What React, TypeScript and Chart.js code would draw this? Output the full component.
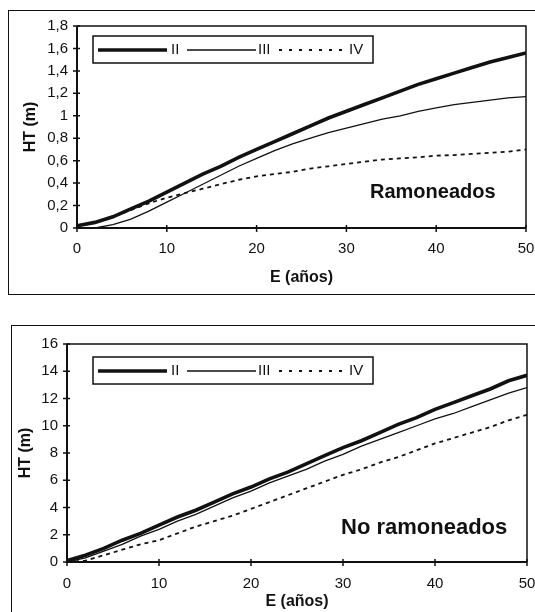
import React, { useEffect, useRef } from "react";
import { Chart, registerables } from "chart.js";

Chart.register(...registerables);

// ---------- data ----------
const years = [0, 2, 4, 6, 8, 10, 12, 14, 16, 18, 20, 22, 24, 26, 28, 30, 32, 34, 36, 38, 40, 42, 44, 46, 48, 50];
const seriesNames = ["II", "III", "IV"];

const ramII = [0.02, 0.05, 0.1, 0.17, 0.24, 0.32, 0.4, 0.48, 0.55, 0.63, 0.7, 0.77, 0.84, 0.91, 0.98, 1.04, 1.1, 1.16, 1.22, 1.28, 1.33, 1.38, 1.43, 1.48, 1.52, 1.56];
const ramIII = [0.0, 0.0, 0.03, 0.08, 0.15, 0.23, 0.31, 0.39, 0.47, 0.55, 0.62, 0.69, 0.75, 0.8, 0.85, 0.89, 0.93, 0.97, 1.0, 1.04, 1.07, 1.1, 1.12, 1.14, 1.16, 1.17];
const ramIV = [0.02, 0.05, 0.1, 0.16, 0.22, 0.27, 0.31, 0.35, 0.39, 0.43, 0.46, 0.48, 0.5, 0.53, 0.55, 0.57, 0.59, 0.61, 0.62, 0.63, 0.645, 0.65, 0.66, 0.67, 0.68, 0.7];

const noRamII = [0.1, 0.5, 1.0, 1.6, 2.1, 2.7, 3.3, 3.8, 4.4, 5.0, 5.5, 6.1, 6.6, 7.2, 7.8, 8.4, 8.9, 9.5, 10.1, 10.6, 11.2, 11.7, 12.2, 12.7, 13.3, 13.7];
const noRamIII = [0.0, 0.3, 0.8, 1.3, 1.9, 2.4, 3.0, 3.5, 4.1, 4.7, 5.2, 5.8, 6.3, 6.8, 7.4, 7.9, 8.5, 9.0, 9.5, 10.0, 10.5, 10.9, 11.4, 11.9, 12.4, 12.8];
const noRamIV = [0.0, 0.1, 0.5, 0.9, 1.3, 1.6, 2.1, 2.6, 3.0, 3.4, 3.9, 4.4, 4.9, 5.4, 5.9, 6.4, 6.8, 7.3, 7.7, 8.2, 8.7, 9.1, 9.5, 9.9, 10.4, 10.8];

const xTickLabels = ["0", "10", "20", "30", "40", "50"];
const ramYTickLabels = ["0", "0,2", "0,4", "0,6", "0,8", "1", "1,2", "1,4", "1,6", "1,8"];
const noRamYTickLabels = ["0", "2", "4", "6", "8", "10", "12", "14", "16"];

const xTitle = "E (años)";
const yTitle = "HT (m)";
const ramLabel = "Ramoneados";
const noRamLabel = "No ramoneados";

// ---------- styling ----------
const FONT = "'Liberation Sans', Arial, Helvetica, sans-serif";
const INK = "#111";
const lineStyles = [
  { width: 3.6, dash: [] as number[] },
  { width: 1.3, dash: [] as number[] },
  { width: 1.8, dash: [4, 4] },
];

type Cfg = {
  series: number[][];
  yMax: number;
  yStep: number;
  yLabels: string[];
  yAxisWidth: number;
  xAxisHeight: number;
  padTop: number;
  padRight: number;
  yTitlePad: number;
  xTitlePad: number;
  xTickPad: number;
  legendDX: number;
  legendDY: number;
  note: string;
  noteX: number;
  noteY: number;
  noteSize: number;
};

const decorPlugin = {
  id: "decor",
  afterDraw(chart: any, _args: any, opts: any) {
    const ctx = chart.ctx as CanvasRenderingContext2D;
    const a = chart.chartArea;
    const xs = chart.scales.x;
    const ys = chart.scales.y;
    ctx.save();
    ctx.strokeStyle = INK;
    // frame
    ctx.lineWidth = 1.5;
    ctx.beginPath();
    ctx.moveTo(a.left, a.top);
    ctx.lineTo(a.right, a.top);
    ctx.lineTo(a.right, a.bottom);
    ctx.stroke();
    ctx.lineWidth = 2;
    ctx.beginPath();
    ctx.moveTo(a.left, a.top);
    ctx.lineTo(a.left, a.bottom);
    ctx.lineTo(a.right, a.bottom);
    ctx.stroke();
    // crossing ticks
    ctx.lineWidth = 1.5;
    ctx.beginPath();
    ys.ticks.forEach((t: any) => {
      const y = ys.getPixelForValue(t.value);
      ctx.moveTo(a.left - 4, y);
      ctx.lineTo(a.left + 3, y);
    });
    xs.ticks.forEach((t: any) => {
      const x = xs.getPixelForValue(t.value);
      ctx.moveTo(x, a.bottom - 3);
      ctx.lineTo(x, a.bottom + 4);
    });
    ctx.stroke();

    // legend box
    const lx = a.left + opts.legendDX;
    const ly = a.top + opts.legendDY;
    const lw = 280;
    const lh = 27;
    ctx.fillStyle = "#fff";
    ctx.fillRect(lx, ly, lw, lh);
    ctx.lineWidth = 1.5;
    ctx.strokeRect(lx, ly, lw, lh);
    const cy = ly + lh / 2 + 0.5;
    const sampleStarts = [5, 94, 186];
    const textStarts = [78, 165, 256];
    ctx.font = `15px ${FONT}`;
    ctx.textBaseline = "middle";
    ctx.textAlign = "left";
    ctx.fillStyle = INK;
    seriesNames.forEach((name, i) => {
      const st = lineStyles[i];
      ctx.lineWidth = i === 2 ? 2.2 : st.width;
      ctx.setLineDash(i === 2 ? [3, 7] : []);
      ctx.beginPath();
      ctx.moveTo(lx + sampleStarts[i], cy);
      ctx.lineTo(lx + sampleStarts[i] + 69, cy);
      ctx.stroke();
      ctx.setLineDash([]);
      ctx.fillText(name, lx + textStarts[i], cy);
    });

    // annotation
    ctx.font = `bold ${opts.noteSize}px ${FONT}`;
    ctx.textBaseline = "middle";
    ctx.fillText(opts.note, opts.noteX, opts.noteY);
    ctx.restore();
  },
};

function buildConfig(c: Cfg): any {
  return {
    type: "line",
    data: {
      datasets: c.series.map((s, i) => ({
        label: seriesNames[i],
        data: years.map((yr, j) => ({ x: yr, y: s[j] })),
        borderColor: INK,
        borderWidth: lineStyles[i].width,
        borderDash: lineStyles[i].dash,
        pointRadius: 0,
        tension: 0,
        fill: false,
      })),
    },
    options: {
      animation: false,
      responsive: true,
      maintainAspectRatio: false,
      layout: { padding: { left: 0, top: c.padTop, right: c.padRight, bottom: 0 } },
      plugins: {
        legend: { display: false },
        tooltip: { enabled: false },
        decor: {
          legendDX: c.legendDX,
          legendDY: c.legendDY,
          note: c.note,
          noteX: c.noteX,
          noteY: c.noteY,
          noteSize: c.noteSize,
        },
      },
      scales: {
        x: {
          type: "linear",
          min: 0,
          max: 50,
          afterFit: (s: any) => {
            s.height = c.xAxisHeight;
          },
          ticks: {
            stepSize: 10,
            autoSkip: false,
            maxRotation: 0,
            padding: c.xTickPad,
            color: INK,
            font: { family: FONT, size: 15 },
            callback: (_v: any, i: number) => xTickLabels[i],
          },
          grid: { display: false, drawTicks: true, tickLength: 4 },
          border: { display: false },
          title: {
            display: true,
            text: xTitle,
            color: INK,
            font: { family: FONT, size: 16, weight: "bold" },
            padding: { top: 0, bottom: c.xTitlePad },
          },
        },
        y: {
          type: "linear",
          min: 0,
          max: c.yMax,
          afterFit: (s: any) => {
            s.width = c.yAxisWidth;
          },
          ticks: {
            stepSize: c.yStep,
            autoSkip: false,
            padding: 5,
            color: INK,
            font: { family: FONT, size: 15 },
            callback: (_v: any, i: number) => c.yLabels[i],
          },
          grid: { display: false, drawTicks: true, tickLength: 4 },
          border: { display: false },
          title: {
            display: true,
            text: yTitle,
            color: INK,
            font: { family: FONT, size: 16, weight: "bold" },
            padding: { top: c.yTitlePad, bottom: 0 },
          },
        },
      },
    },
    plugins: [decorPlugin],
  };
}

const topCfg: Cfg = {
  series: [ramII, ramIII, ramIV],
  yMax: 1.8,
  yStep: 0.2,
  yLabels: ramYTickLabels,
  yAxisWidth: 69,
  xAxisHeight: 66,
  padTop: 16,
  padRight: 27,
  yTitlePad: 13,
  xTitlePad: 7,
  xTickPad: 8,
  legendDX: 16,
  legendDY: 10,
  note: ramLabel,
  noteX: 362,
  noteY: 182,
  noteSize: 20,
};

const bottomCfg: Cfg = {
  series: [noRamII, noRamIII, noRamIV],
  yMax: 16,
  yStep: 2,
  yLabels: noRamYTickLabels,
  yAxisWidth: 55,
  xAxisHeight: 50,
  padTop: 18,
  padRight: 30,
  yTitlePad: 4,
  xTitlePad: 0.5,
  xTickPad: 8.5,
  legendDX: 26,
  legendDY: 13,
  note: noRamLabel,
  noteX: 329,
  noteY: 202,
  noteSize: 22,
};

function ChartBox({ cfg, left, top, width, height }: { cfg: Cfg; left: number; top: number; width: number; height: number }) {
  const ref = useRef<HTMLCanvasElement | null>(null);
  useEffect(() => {
    if (!ref.current) return;
    const chart = new Chart(ref.current, buildConfig(cfg));
    return () => chart.destroy();
  }, [cfg]);
  return (
    <div style={{ position: "absolute", left, top, width, height }}>
      <canvas ref={ref} />
    </div>
  );
}

export default function App() {
  return (
    <div
      style={{
        position: "absolute",
        left: 0,
        top: 0,
        width: 535,
        height: 612,
        overflow: "hidden",
        background: "#fff",
      }}
    >
      <div
        style={{
          position: "absolute",
          left: 8,
          top: 10,
          width: 560,
          height: 285,
          boxSizing: "border-box",
          border: "1.5px solid #111",
        }}
      />
      <div
        style={{
          position: "absolute",
          left: 11,
          top: 325,
          width: 560,
          height: 320,
          boxSizing: "border-box",
          border: "1.5px solid #111",
        }}
      />
      <ChartBox cfg={topCfg} left={8} top={10} width={545} height={284} />
      <ChartBox cfg={bottomCfg} left={12} top={326} width={545} height={286} />
    </div>
  );
}
